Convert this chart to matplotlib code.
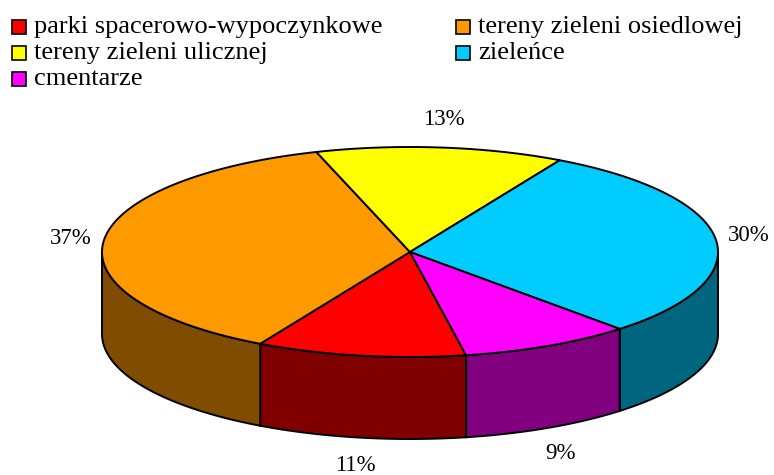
import numpy as np
import matplotlib.pyplot as plt
from matplotlib.patches import Polygon, Rectangle

# udział poszczególnych form zieleni
categories = ['parki spacerowo-wypoczynkowe', 'tereny zieleni osiedlowej',
              'tereny zieleni ulicznej', 'zieleńce', 'cmentarze']
shares = [11, 37, 13, 30, 9]
top_colors = ['#FF0000', '#FF9900', '#FFFF00', '#00CCFF', '#FF00FF']
side_colors = ['#800000', '#804C00', '#808000', '#006680', '#800080']

plt.rcParams['font.family'] = ['Liberation Serif', 'DejaVu Serif']

fig = plt.figure(figsize=(7.74, 4.75), dpi=100)
ax = fig.add_axes([0, 0, 1, 1])
ax.set_xlim(0, 774)
ax.set_ylim(475, 0)
ax.axis('off')

# geometria "tortu 3D" (w pikselach)
cx, cy = 410, 252
rx, ry = 308, 105
depth = 82
start = 280.5


def rim(t):
    t = np.radians(t)
    return cx + rx * np.cos(t), cy - ry * np.sin(t)


fracs = np.array(shares, dtype=float) / sum(shares)
bounds = start - 360 * np.concatenate([[0], np.cumsum(fracs)])

# boczne ściany - tylko przednia połowa (kąty 180..360)
for i in range(len(shares)):
    a0, a1 = bounds[i + 1], bounds[i]
    for off in (0, 360, -360):
        lo, hi = max(a0 + off, 180), min(a1 + off, 360)
        if hi <= lo:
            continue
        t = np.linspace(lo, hi, 80)
        x, y = rim(t)
        pts = np.column_stack([np.r_[x, x[::-1]], np.r_[y, y[::-1] + depth]])
        ax.add_patch(Polygon(pts, closed=True, facecolor=side_colors[i],
                             edgecolor='black', linewidth=1.4, zorder=1))

# wierzch wycinków
for i in range(len(shares)):
    t = np.linspace(bounds[i + 1], bounds[i], 120)
    x, y = rim(t)
    pts = np.column_stack([np.r_[cx, x], np.r_[cy, y]])
    ax.add_patch(Polygon(pts, closed=True, facecolor=top_colors[i],
                         edgecolor='black', linewidth=1.4, zorder=2))

# etykiety procentowe - na zewnątrz, odsunięte o połowę własnego rozmiaru
gap_x, gap_y = 12, 18
renderer = fig.canvas.get_renderer()
for i, v in enumerate(shares):
    mid = np.radians((bounds[i] + bounds[i + 1]) / 2)
    c, s = np.cos(mid), np.sin(mid)
    ax_x = cx + (rx + gap_x) * c
    ax_y = cy - (ry + gap_y) * s
    if s < 0:
        ax_y += depth
    t = ax.text(ax_x, ax_y, f'{v}%', ha='center', va='center', fontsize=16.5)
    bb = t.get_window_extent(renderer)
    t.set_position((ax_x + bb.width / 2 * c, ax_y - bb.height / 2 * s))

# legenda
order = [0, 2, 4, 1, 3]
for k, i in enumerate(order):
    col, row = divmod(k, 3)
    x0 = 12 + col * 444
    y0 = 20 + row * 26
    ax.add_patch(Rectangle((x0, y0), 13.5, 13.5, facecolor=top_colors[i],
                           edgecolor='black', linewidth=1.2))
    ax.text(x0 + 22, y0 + 7, categories[i], ha='left', va='center',
            fontsize=19)

fig.savefig('out.png', dpi=100)
